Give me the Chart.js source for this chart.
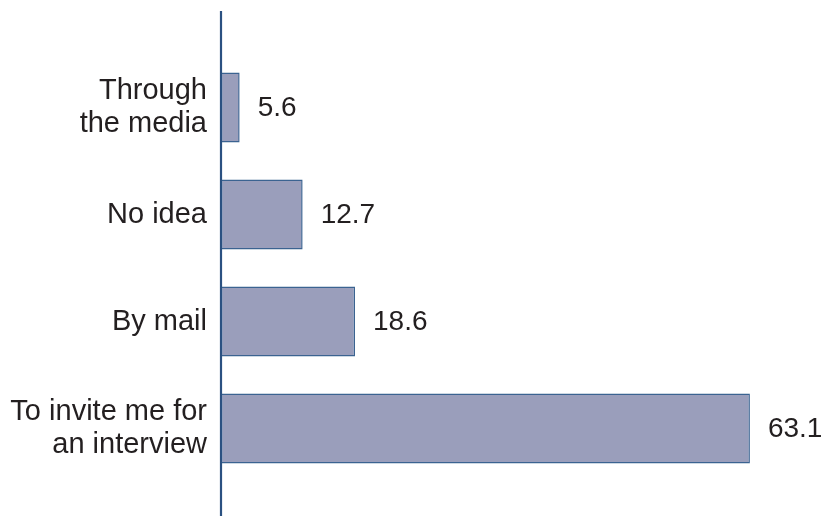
<!DOCTYPE html>
<html>
<head>
<meta charset="utf-8">
<script src="https://cdn.jsdelivr.net/npm/chart.js@4.4.0/dist/chart.umd.min.js"></script>
<style>
  html, body { margin: 0; padding: 0; background: #fff; }
  #wrap { width: 828px; height: 516px; position: relative; }
</style>
</head>
<body>
<div id="wrap"><canvas id="myChart"></canvas></div>
<script>
// data
const categories = [['Through', 'the media'], 'No idea', 'By mail', ['To invite me for', 'an interview']];
const percentValues = [5.6, 12.7, 18.6, 63.1];
const valueLabels = ['5.6', '12.7', '18.6', '63.1'];

// in the original the axis line does not sit at zero, bars start from it anyway
const axisStart = 3.5;
const axisEnd = 71.9;

const textFont = '"Liberation Sans", Arial, sans-serif';

// value labels at the end of each bar
const barLabels = {
  id: 'barLabels',
  afterDatasetsDraw: function(chart) {
    const ctx = chart.ctx;
    const meta = chart.getDatasetMeta(0);
    ctx.save();
    ctx.font = '28px ' + textFont;
    ctx.fillStyle = '#231f20';
    ctx.textBaseline = 'middle';
    ctx.textAlign = 'left';
    meta.data.forEach(function(bar, i) {
      ctx.fillText(valueLabels[i], bar.x + 18, bar.y + 1);
    });
    ctx.restore();
  }
};

// vertical axis line running past the plot area, like the original
const axisLine = {
  id: 'axisLine',
  afterDatasetsDraw: function(chart) {
    const ctx = chart.ctx;
    const x = chart.scales.x.left;
    ctx.save();
    ctx.strokeStyle = '#2b5181';
    ctx.lineWidth = 2.2;
    ctx.beginPath();
    ctx.moveTo(x, 11);
    ctx.lineTo(x, 516);
    ctx.stroke();
    ctx.restore();
  }
};

const ctx = document.getElementById('myChart').getContext('2d');
const myChart = new Chart(ctx, {
  type: 'bar',
  data: {
    labels: categories,
    datasets: [{
      data: percentValues,
      base: axisStart,
      backgroundColor: '#9a9ebb',
      borderColor: '#3b6391',
      borderWidth: 1.5,
      borderSkipped: false,
      barPercentage: 0.655,
      categoryPercentage: 1
    }]
  },
  options: {
    indexAxis: 'y',
    responsive: true,
    maintainAspectRatio: false,
    animation: false,
    layout: { padding: { top: 54, bottom: 34, left: 0, right: 0 } },
    plugins: {
      legend: { display: false },
      tooltip: { enabled: false }
    },
    scales: {
      x: {
        display: false,
        min: axisStart,
        max: axisEnd
      },
      y: {
        afterFit: function(scale) {
          scale.width = 221;
          scale.paddingTop = 0;
          scale.paddingBottom = 0;
        },
        grid: { display: false, drawTicks: false },
        border: { display: false },
        ticks: {
          padding: 14,
          color: '#231f20',
          font: { family: textFont, size: 29, lineHeight: 1.14 }
        }
      }
    }
  },
  plugins: [barLabels, axisLine]
});
</script>
</body>
</html>
